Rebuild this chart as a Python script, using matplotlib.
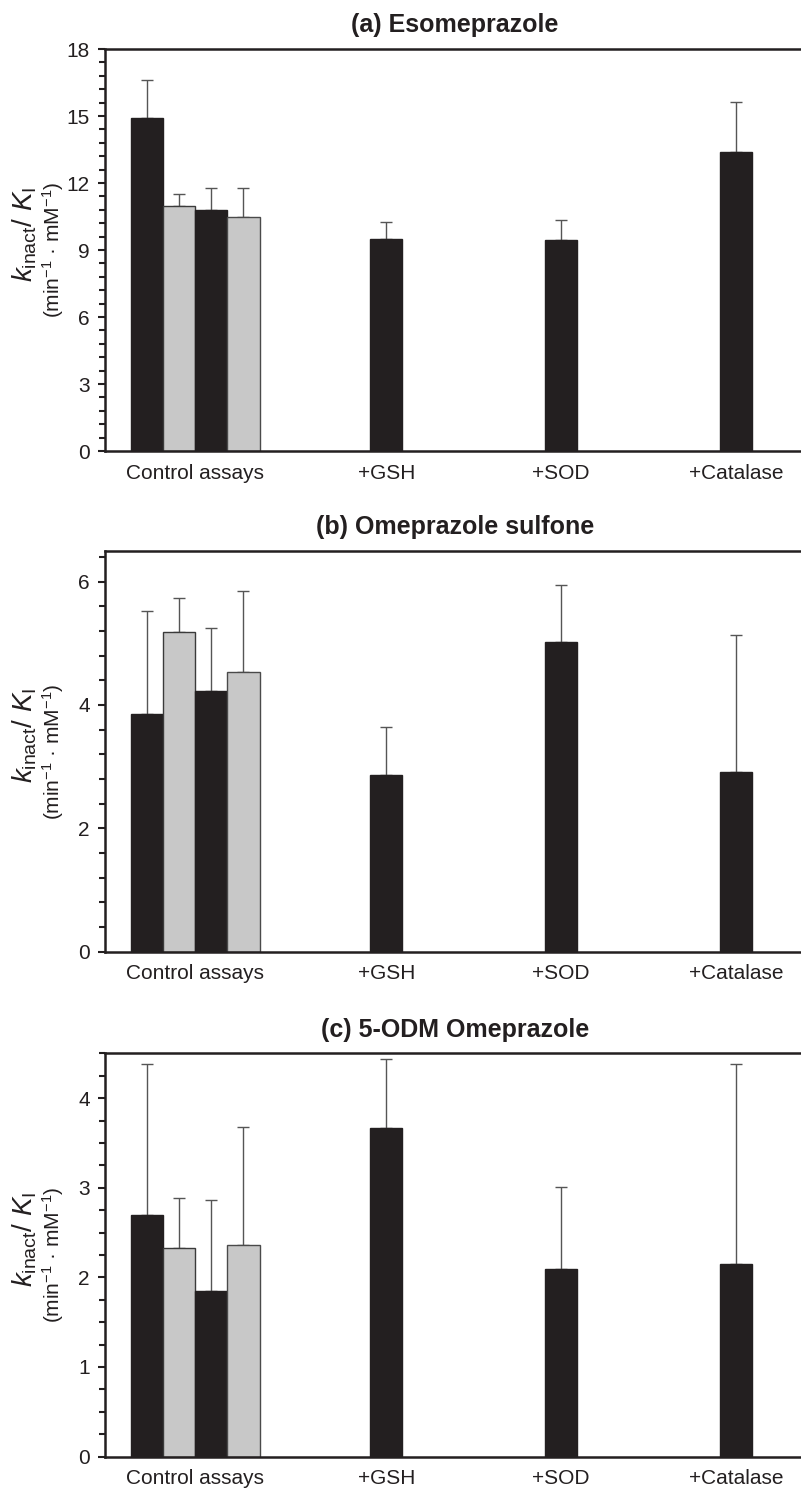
import matplotlib
matplotlib.use("Agg")
import matplotlib.pyplot as plt
from matplotlib.ticker import MultipleLocator

# data (bar value, plus-error)
categories = ["Control assays", "+GSH", "+SOD", "+Catalase"]

a_control = [14.9, 10.97, 10.8, 10.48]
a_control_err = [1.7, 0.53, 1.0, 1.32]
a_treat = [9.49, 9.45, 13.4]
a_treat_err = [0.76, 0.88, 2.24]

b_control = [3.86, 5.19, 4.22, 4.53]
b_control_err = [1.66, 0.54, 1.02, 1.31]
b_treat = [2.86, 5.02, 2.92]
b_treat_err = [0.78, 0.93, 2.22]

c_control = [2.70, 2.33, 1.85, 2.36]
c_control_err = [1.68, 0.55, 1.01, 1.32]
c_treat = [3.67, 2.09, 2.15]
c_treat_err = [0.77, 0.92, 2.23]

titles = ["(a) Esomeprazole", "(b) Omeprazole sulfone", "(c) 5-ODM Omeprazole"]

plt.rcParams["font.family"] = ["Liberation Sans", "DejaVu Sans"]
plt.rcParams["mathtext.fontset"] = "custom"
plt.rcParams["mathtext.rm"] = "Liberation Sans"
plt.rcParams["mathtext.it"] = "Liberation Sans:italic"

DARK = "#231f20"
GREY = "#c8c8c8"
ERR = "#555555"

fig = plt.figure(figsize=(8.01, 14.95), dpi=100)

# panel boxes in figure fractions: left, bottom, width, height
boxes = [
    (0.1311, 0.6983, 0.8739, 0.2689),
    (0.1311, 0.3634, 0.8739, 0.2682),
    (0.1311, 0.02575, 0.8739, 0.2697),
]
ylims = [18, 6.5, 4.5]
majors = [3, 2, 1]
minors = [0.6, 0.4, 0.25]
panels = [
    (a_control, a_control_err, a_treat, a_treat_err),
    (b_control, b_control_err, b_treat, b_treat_err),
    (c_control, c_control_err, c_treat, c_treat_err),
]

w = 0.184
label_top = r"$k_{\mathrm{inact}}$/ $K_{\mathrm{I}}$"
label_bottom = r"(min$^{-1}$ · mM$^{-1}$)"
axw_px = 0.8739 * 801

for i in range(3):
    ax = fig.add_axes(boxes[i])
    ctrl, ctrl_err, treat, treat_err = panels[i]

    # control cluster: four bars alternating dark / grey
    ctrl_x = [(k - 1.5) * w for k in range(4)]
    ctrl_col = [DARK, GREY, DARK, GREY]
    ctrl_edge = [DARK, "#3a3a3a", DARK, "#4a4a4a"]
    ax.bar(ctrl_x, ctrl, width=w, color=ctrl_col, edgecolor=ctrl_edge, linewidth=1, zorder=2)
    ax.errorbar(ctrl_x, ctrl, yerr=[[0] * 4, ctrl_err], fmt="none", ecolor=ERR,
                elinewidth=1, capsize=4, capthick=1, zorder=1)

    # treatments sit in the third slot of their category
    treat_x = [j + 0.5 * w for j in range(1, 4)]
    ax.bar(treat_x, treat, width=w, color=DARK, edgecolor=DARK, linewidth=1, zorder=2)
    ax.errorbar(treat_x, treat, yerr=[[0] * 3, treat_err], fmt="none", ecolor=ERR,
                elinewidth=1, capsize=4, capthick=1, zorder=1)

    ax.set_xlim(-0.515, 3.485)
    ax.set_ylim(0, ylims[i])
    ax.yaxis.set_major_locator(MultipleLocator(majors[i]))
    ax.yaxis.set_minor_locator(MultipleLocator(minors[i]))
    ax.set_xticks([0] + treat_x)
    ax.set_xticklabels(categories)
    ax.tick_params(axis="x", length=0, pad=9, labelsize=15, colors="#231f20")
    ax.tick_params(axis="y", which="major", direction="out", length=5, width=1.5,
                   labelsize=15, pad=6, colors=DARK)
    ax.tick_params(axis="y", which="minor", direction="out", length=4, width=1.5, colors=DARK)

    ax.spines["right"].set_visible(False)
    for s in ["left", "bottom", "top"]:
        ax.spines[s].set_linewidth(1.8)
        ax.spines[s].set_color(DARK)

    ax.set_title(titles[i], fontsize=18, fontweight="bold", pad=12, color=DARK)

    # two-line y label
    ax_h_px = boxes[i][3] * 1495
    ax.text((25 - 105) / axw_px, 0.5 + 63 / ax_h_px, label_top, rotation=90, fontsize=20,
            ha="center", va="top", color=DARK, transform=ax.transAxes)
    ax.text((53 - 105) / axw_px, 0.5 + 68 / ax_h_px, label_bottom, rotation=90, fontsize=15,
            ha="center", va="top", color=DARK, transform=ax.transAxes)

plt.savefig("out.png", dpi=100)
